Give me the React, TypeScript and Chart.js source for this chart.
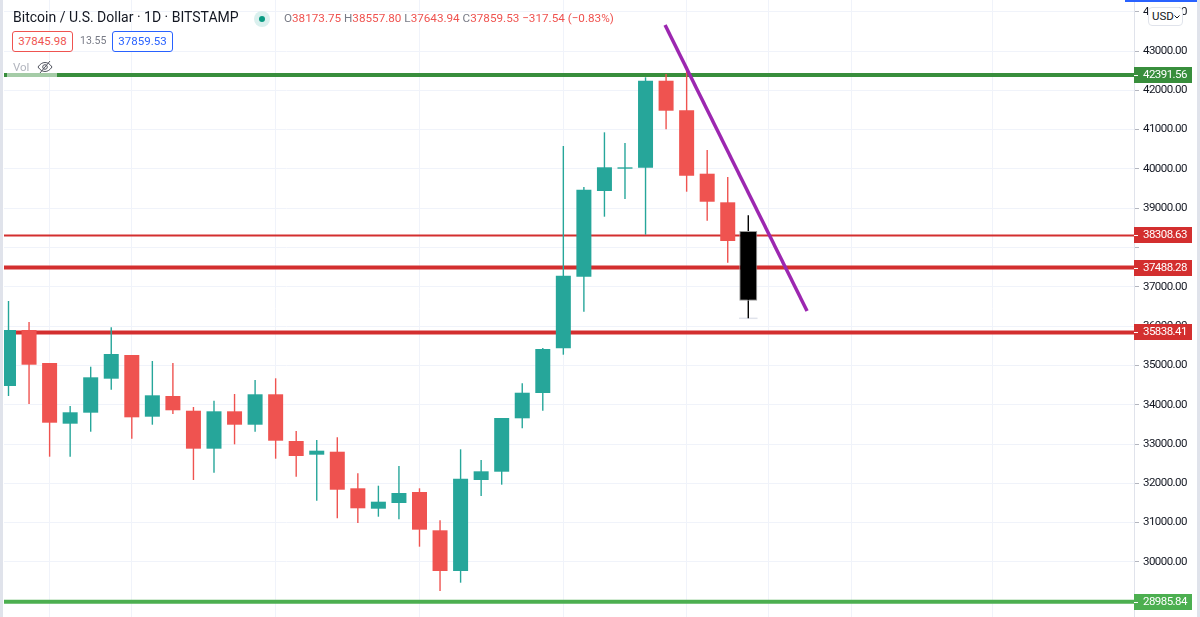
import { useEffect, useRef } from "react";
import { Chart, registerables } from "chart.js";

Chart.register(...registerables);

// daily candles, oldest first
const opens = [34476, 35901, 35061, 33517, 33797, 34662, 35265, 33695, 34221, 33847, 32881, 33832, 33491, 34265, 33076, 32728, 32804, 31873, 31354, 31499, 31779, 30804, 29769, 32084, 32295, 33654, 34298, 35435, 37257, 39438, 40005, 40031, 42244, 41491, 39878, 39150, 38420];
const highs = [36639, 36104, 35061, 33967, 34967, 35970, 35265, 35112, 35061, 33942, 34102, 34272, 34629, 34672, 33331, 33102, 33171, 32254, 31939, 32440, 31873, 31059, 32865, 32593, 33662, 34545, 35443, 40583, 39539, 40931, 40659, 42331, 42415, 42601, 40481, 39794, 38819];
const lows = [34221, 34018, 32677, 32677, 33313, 34382, 33135, 33491, 33763, 32084, 32270, 32992, 33313, 32626, 32168, 31557, 31109, 30990, 31150, 31084, 30387, 29260, 29471, 31677, 31965, 33400, 33847, 35272, 36366, 38784, 39234, 38326, 41008, 39420, 38682, 37613, 36198];
const closes = [35901, 35018, 33542, 33807, 34697, 35290, 33679, 34239, 33858, 32881, 33832, 33491, 34265, 33084, 32695, 32830, 31837, 31364, 31532, 31753, 30820, 29769, 32117, 32305, 33662, 34305, 35417, 37282, 39471, 40041, 40040, 42244, 41481, 39827, 39165, 38165, 36646];

const topLevel = [42391.56];
const thinRedLevel = [38308.63];
const redLevels = [37488.28, 35838.41];
const bottomLevel = [28985.84];

const trendX = [31.95, 38.86];
const trendY = [43662, 36384];

// faint tick under the last candle's low
const lastLowX = [35.55, 36.45];

const dayGridLines = [2, 6, 13, 20, 27, 33, 37, 41, 47.9];
const priceTicks = [29000, 30000, 31000, 32000, 33000, 34000, 35000, 36000, 37000, 38000, 39000, 40000, 41000, 42000, 43000, 44000];
const hiddenPriceLabels = [38000];

const UP = "#26a69a";
const DOWN = "#ef5350";
const xMin = -0.219;
const xMax = 54.77;
const yMin = 28598;
const yMax = 44298;
const lastIndex = opens.length - 1;
const priceFont = "Roboto, sans-serif";
const priceSpacing = "-0.55px";

function candleColor(i: number) {
    return closes[i] >= opens[i] ? UP : DOWN;
}

function levelLine(price: number, color: string, width: number) {
    return {
        type: "line" as const,
        data: [
            { x: xMin, y: price },
            { x: xMax, y: price },
        ],
        borderColor: color,
        borderWidth: width,
        pointRadius: 0,
        order: 5,
    };
}

const narrowText = {
    id: "narrowText",
    beforeDraw(chart: any) {
        chart.ctx.letterSpacing = priceSpacing;
    },
};

const priceTags = {
    id: "priceTags",
    afterDraw(chart: any) {
        const { ctx, scales } = chart;
        const tags = [
            [topLevel[0], "#388e3c"],
            [thinRedLevel[0], "#d32f2f"],
            [redLevels[0], "#d32f2f"],
            [redLevels[1], "#d32f2f"],
            [bottomLevel[0], "#4caf50"],
        ] as [number, string][];
        ctx.save();
        ctx.font = "11.5px " + priceFont;
        ctx.letterSpacing = priceSpacing;
        ctx.textBaseline = "middle";
        ctx.textAlign = "left";
        tags.forEach(([price, color]) => {
            const y = Math.round(scales.y.getPixelForValue(price));
            ctx.fillStyle = color;
            ctx.fillRect(1134, y - 8, 58, 16);
            ctx.fillStyle = "#fff";
            ctx.fillRect(1134, y, 4, 1);
            ctx.fillText(price.toFixed(2), 1143, y + 0.5);
        });
        ctx.restore();
    },
};

export default function App() {
    const canvasRef = useRef<HTMLCanvasElement | null>(null);

    useEffect(() => {
        if (!canvasRef.current) {
            return;
        }

        const days = opens.map((_, i) => i);
        const shown = days.filter((i) => i < lastIndex);

        const chart = new Chart(canvasRef.current, {
            type: "bar",
            data: {
                datasets: [
                    levelLine(topLevel[0], "#388e3c", 4),
                    levelLine(thinRedLevel[0], "#d32f2f", 2),
                    levelLine(redLevels[0], "#d32f2f", 4),
                    levelLine(redLevels[1], "#d32f2f", 4),
                    levelLine(bottomLevel[0], "#4caf50", 4),
                    {
                        type: "line",
                        data: lastLowX.map((x) => ({ x, y: lows[lastIndex] })),
                        borderColor: "#e0e3eb",
                        borderWidth: 1.5,
                        pointRadius: 0,
                        order: 5,
                    },
                    {
                        data: days.map((i) => ({ x: i, y: [lows[i], highs[i]] })),
                        backgroundColor: days.map((i) => (i === lastIndex ? "#000" : candleColor(i))),
                        barThickness: 1.4,
                        inflateAmount: 0,
                        grouped: false,
                        order: 4,
                    },
                    {
                        data: shown.map((i) => ({ x: i, y: [opens[i], closes[i]] })),
                        backgroundColor: shown.map((i) => candleColor(i)),
                        barThickness: 15,
                        inflateAmount: 0,
                        grouped: false,
                        order: 3,
                    },
                    {
                        data: [{ x: lastIndex, y: [opens[lastIndex], closes[lastIndex]] }],
                        backgroundColor: "#000",
                        borderColor: "#9a9a9a",
                        borderWidth: 1,
                        borderSkipped: false,
                        barThickness: 18,
                        inflateAmount: 0,
                        grouped: false,
                        order: 2,
                    },
                    {
                        type: "line",
                        data: trendX.map((x, i) => ({ x, y: trendY[i] })),
                        borderColor: "#9c27b0",
                        borderWidth: 3.5,
                        pointRadius: 0,
                        order: 1,
                    },
                ] as any,
            },
            options: {
                responsive: false,
                animation: false,
                layout: { padding: { left: 4, right: 0, top: 0, bottom: 0 } },
                plugins: {
                    legend: { display: false },
                    tooltip: { enabled: false },
                },
                scales: {
                    x: {
                        type: "linear",
                        offset: false,
                        min: xMin,
                        max: xMax,
                        border: { display: false },
                        grid: { color: "#f0f3fa", drawTicks: false, offset: false },
                        ticks: { display: false },
                        afterBuildTicks(scale: any) {
                            scale.ticks = dayGridLines.map((value) => ({ value }));
                        },
                        afterFit(scale: any) {
                            scale.height = 0;
                        },
                    },
                    y: {
                        type: "linear",
                        position: "right",
                        min: yMin,
                        max: yMax,
                        border: { color: "#e0e3eb" },
                        grid: { color: "#f0f3fa", tickColor: "#b2b5be", tickLength: 5 },
                        ticks: {
                            autoSkip: false,
                            maxRotation: 0,
                            padding: 4,
                            color: "#131722",
                            font: { family: priceFont, size: 11.5 },
                            callback: (value: any) =>
                                hiddenPriceLabels.includes(Number(value)) ? "" : Number(value).toFixed(2),
                        },
                        afterBuildTicks(scale: any) {
                            scale.ticks = priceTicks.map((value) => ({ value }));
                        },
                        afterFit(scale: any) {
                            scale.width = 66;
                            scale.paddingTop = 0;
                            scale.paddingBottom = 0;
                        },
                    },
                },
            } as any,
            plugins: [narrowText, priceTags],
        });

        return () => chart.destroy();
    }, []);

    const label = { position: "absolute", whiteSpace: "nowrap", fontFamily: priceFont } as const;
    const valueStyle = { color: DOWN };
    const keyStyle = { color: "#787b86" };

    return (
        <div style={{ position: "fixed", left: 0, top: 0, width: 1200, height: 617, background: "#fff", overflow: "hidden" }}>
            <canvas ref={canvasRef} width={1200} height={617} style={{ display: "block", position: "absolute", left: 0, top: 0 }} />

            <div style={{ position: "absolute", left: 0, top: 0, width: 3, height: 617, background: "#e0e3eb" }} />
            <div style={{ position: "absolute", right: 0, top: 0, width: 3, height: 617, background: "#e0e3eb" }} />
            <div style={{ position: "absolute", left: 1125, top: 0, width: 72, height: 1.5, background: "#2962ff" }} />

            <div style={{ ...label, left: 13, top: 9, fontSize: 14, color: "#131722", lineHeight: "17px" }}>
                Bitcoin / U.S. Dollar · 1D · BITSTAMP
            </div>
            <div style={{ position: "absolute", left: 254, top: 11, width: 16, height: 16, borderRadius: 8, background: "#daf0ee" }} />
            <div style={{ position: "absolute", left: 259, top: 16, width: 6, height: 6, borderRadius: 3, background: "#089981" }} />
            <div style={{ ...label, left: 284, top: 11, fontSize: 11.7, lineHeight: "14px" }}>
                <span style={keyStyle}>O</span><span style={valueStyle}>38173.75</span>{" "}
                <span style={keyStyle}>H</span><span style={valueStyle}>38557.80</span>{" "}
                <span style={keyStyle}>L</span><span style={valueStyle}>37643.94</span>{" "}
                <span style={keyStyle}>C</span><span style={valueStyle}>37859.53</span>{" "}
                <span style={valueStyle}>−317.54 (−0.83%)</span>
            </div>

            <div style={{ ...label, left: 12, top: 31, width: 59, height: 19, border: `1px solid ${DOWN}`, borderRadius: 3, color: DOWN, fontSize: 11.5, lineHeight: "19px", textAlign: "center", background: "#fff" }}>
                37845.98
            </div>
            <div style={{ ...label, left: 80, top: 34, fontSize: 10.5, lineHeight: "14px", color: "#787b86" }}>13.55</div>
            <div style={{ ...label, left: 112, top: 31, width: 59, height: 19, border: "1px solid #2962ff", borderRadius: 3, color: "#2962ff", fontSize: 11.5, lineHeight: "19px", textAlign: "center", background: "#fff" }}>
                37859.53
            </div>

            <div style={{ position: "absolute", left: 7, top: 60, width: 50, height: 17, background: "rgba(255,255,255,0.55)" }} />
            <div style={{ ...label, left: 13, top: 60, fontSize: 11.5, lineHeight: "14px", color: "#b2b5be" }}>Vol</div>
            <svg style={{ position: "absolute", left: 37, top: 59 }} width="16" height="16" viewBox="0 0 16 16" fill="none" stroke="#50535e" strokeWidth="1">
                <path d="M1 8c2-3 4.400-4.500 7-4.500S13 5 15 8c-2 3-4.400 4.500-7 4.500S3 11 1 8z" />
                <circle cx="8" cy="8" r="2.300" />
                <path d="M13 2L3 14" />
            </svg>

            <div style={{ ...label, left: 1148, top: 7, width: 30, height: 17, border: "1px solid #e0e3eb", borderRadius: 4, background: "#fff", color: "#131722", fontSize: 11.5, lineHeight: "17px", paddingLeft: 3, boxSizing: "content-box" }}>
                USD
                <svg style={{ position: "absolute", left: 25, top: 7 }} width="6" height="4" viewBox="0 0 6 4" fill="none" stroke="#131722" strokeWidth="1">
                    <path d="M0.500 0.500L3 3L5.500 0.500" />
                </svg>
            </div>
        </div>
    );
}
